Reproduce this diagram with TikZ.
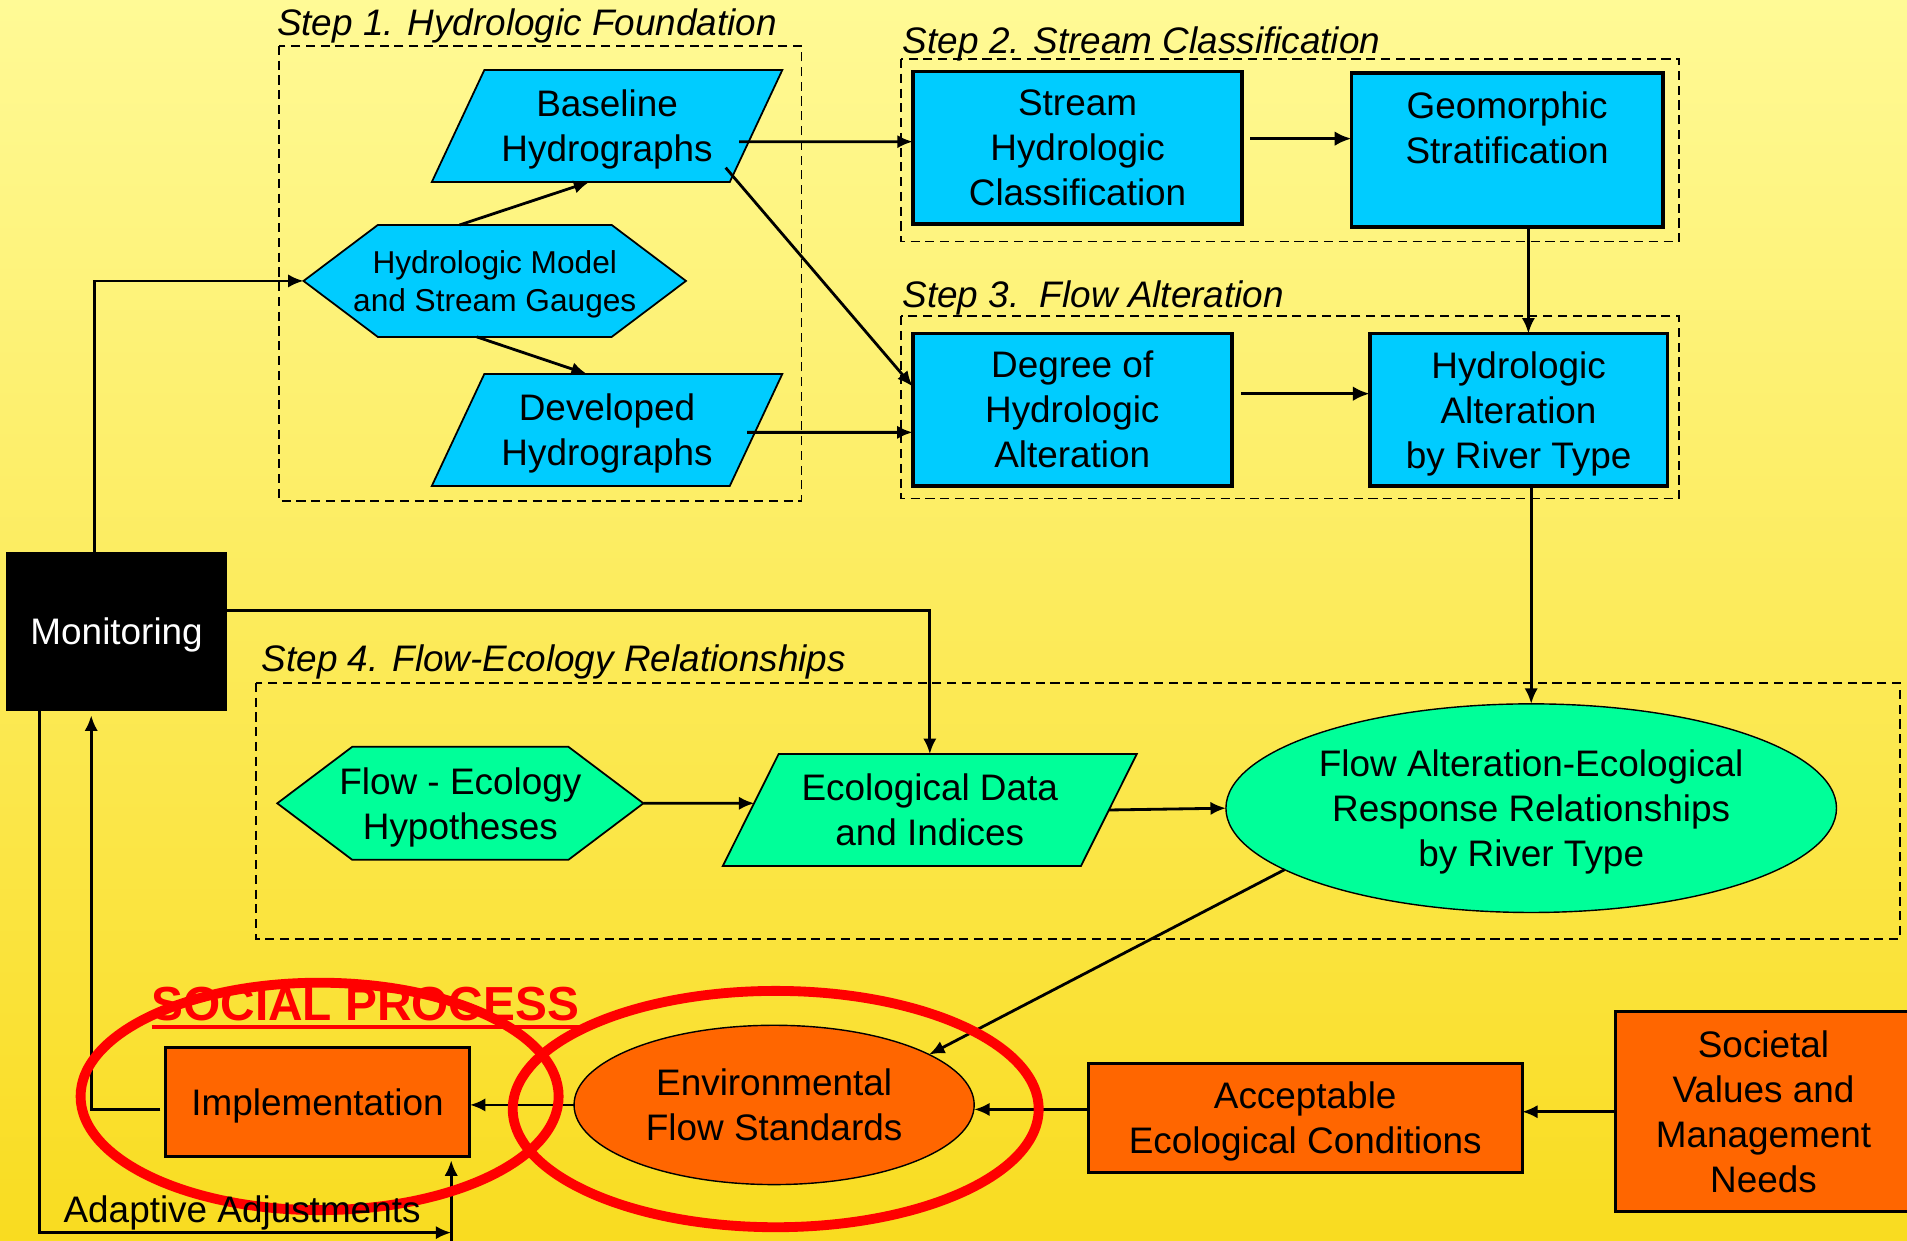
\documentclass[tikz,border=0pt]{standalone}
\usepackage{fontspec}
\setmainfont{Liberation Sans}
\usetikzlibrary{arrows.meta,shapes.geometric,shapes.symbols}
\definecolor{cyanbox}{HTML}{00CCFF}
\definecolor{greenbox}{HTML}{00FF99}
\definecolor{orangebox}{HTML}{FF6600}
\definecolor{bgtop}{HTML}{FFFA96}
\definecolor{bgbot}{HTML}{F9DC20}
% zero-width line, so wide text may overhang the slanted ends of a shape
\newcommand{\zw}[1]{\makebox[0pt]{#1}}
\begin{document}
\begin{tikzpicture}[x=0.012162cm, y=-0.012162cm,
  every node/.style={font=\fontsize{10.5}{12.8}\selectfont, align=center, inner sep=0pt,
    outer sep=0pt, text depth=0pt},
  bluerect/.style={rectangle, draw=black, line width=1.1pt, fill=cyanbox},
  orangerect/.style={rectangle, draw=black, line width=0.85pt, fill=orangebox},
  para/.style={trapezium, trapezium stretches=true, draw=black, line width=0.5pt,
    minimum height=1.119cm},
  hexa/.style={signal, signal to=west and east, signal pointer angle=74,
    draw=black, line width=0.5pt},
  oval/.style={ellipse, draw=black, line width=0.4pt},
  steplabel/.style={anchor=base west, font=\fontsize{10.5}{12.8}\selectfont\itshape},
  framebox/.style={draw=black, line width=0.45pt, dash pattern=on 2.6pt off 1.6pt},
  conn/.style={line width=0.8pt},
  arr/.style={conn, -{Latex[length=4.4pt,width=3.8pt]}},
  arrthick/.style={line width=1pt, -{Latex[length=4.8pt,width=4.2pt]}},
  socialring/.style={ellipse, draw=red, line width=2.8pt}
]
% canvas and background gradient
\useasboundingbox (0,0) rectangle (1568,1019.6);
\shade[top color=bgtop, bottom color=bgbot] (0,0) rectangle (1568,1019.6);

% dashed step frames
\draw[framebox] (229.5,37.8) rectangle (659,412);
\draw[framebox] (741,48.5) rectangle (1380.6,198.6);
\draw[framebox] (741,260) rectangle (1380.6,410);
\draw[framebox] (210.3,561.5) rectangle (1562,772.3);

% step titles
\node[steplabel] (t1) at (227.8,29.6) {Step 1. Hydrologic Foundation};
\node[steplabel] (t2) at (742.4,43.6) {Step 2. Stream Classification};
\node[steplabel] (t3) at (742,253) {Step 3.\ \ Flow Alteration};
\node[steplabel] (t4) at (215.3,552.1) {Step 4. Flow-Ecology Relationships};

% step 1
\node[para, fill=cyanbox, trapezium left angle=57.8, trapezium right angle=122.2,
  minimum width=3.521cm] (base) at (499.15,103.6) {Baseline\\Hydrographs};
\node[para, fill=cyanbox, trapezium left angle=57.8, trapezium right angle=122.2,
  minimum width=3.521cm] (dev) at (499.15,353.5) {Developed\\Hydrographs};
\node[hexa, fill=cyanbox, minimum width=3.824cm, minimum height=1.119cm,
  font=\fontsize{9}{10.9}\selectfont] (model) at (406.8,231)
  {\zw{Hydrologic Model}\\\zw{and Stream Gauges}};

% step 2
\node[bluerect, minimum width=3.296cm, minimum height=1.529cm] (stream) at (886,121.65)
  {Stream\\Hydrologic\\Classification};
\node[bluerect, minimum width=3.113cm, minimum height=1.540cm] (geo) at (1239.2,123.4)
  {Geomorphic\\Stratification\\\mbox{}};

% step 3
\node[bluerect, minimum width=3.193cm, minimum height=1.523cm] (deg) at (881.65,336.8)
  {Degree of\\Hydrologic\\Alteration};
\node[bluerect, minimum width=2.977cm, minimum height=1.524cm] (halt) at (1248.6,336.85)
  {Hydrologic\\Alteration\\by River Type};

% monitoring
\node[rectangle, fill=black, text=white, minimum width=2.211cm, minimum height=1.584cm]
  (mon) at (95.9,519.1) {Monitoring};

% step 4
\node[hexa, fill=greenbox, minimum width=3.661cm, minimum height=1.131cm] (hyp)
  at (378.5,660.5) {\zw{Flow - Ecology}\\\zw{Hypotheses}};
\node[para, fill=greenbox, trapezium left angle=56.6, trapezium right angle=123.4,
  minimum width=4.147cm] (eco) at (764.5,666) {Ecological Data\\and Indices};
\node[oval, fill=greenbox, minimum width=6.105cm, minimum height=2.086cm] (resp)
  at (1259,664.5) {Flow Alteration-Ecological\\Response Relationships\\by River Type};

% social process
\node[oval, fill=orangebox, minimum width=4.001cm, minimum height=1.593cm] (env)
  at (636.5,908.5) {Environmental\\Flow Standards};
\node[orangerect, minimum width=3.047cm, minimum height=1.095cm] (impl)
  at (261.1,906) {Implementation};
\node[orangerect, minimum width=4.339cm, minimum height=1.089cm] (acc)
  at (1073.15,919.25) {Acceptable\\Ecological Conditions};
\node[orangerect, minimum width=2.968cm, minimum height=1.995cm] (soc)
  at (1450,914.1) {Societal\\Values and\\Management\\Needs};

% connectors, step 1
\draw[arr] ([shift={(-29,0)}]model.north) -- ([shift={(-14.65,0)}]base.south);
\draw[arr] ([shift={(-14.8,0)}]model.south) -- ([shift={(-16.7,0)}]dev.north);
\draw[arr] ([shift={(-18.4,0)}]mon.north) |- (model.west);
\draw[arr] ([shift={(-14,12.9)}]base.east) -- ([shift={(0,-5.15)}]stream.west);
\draw[arr] ([shift={(-25,34.3)}]base.east) -- ([shift={(0,-19)}]deg.west);
\draw[arr] ([shift={(-7.3,2)}]dev.east) -- ([shift={(0,18.7)}]deg.west);

% connectors, steps 2 and 3
\draw[arrthick] ([shift={(6.5,-7.65)}]stream.east) -- ([shift={(0,-9.4)}]geo.west);
\draw[arr] ([shift={(17.5,0)}]geo.south) -- ([shift={(8.1,0)}]halt.north);
\draw[arrthick] ([shift={(7.4,-13.1)}]deg.east) -- ([shift={(0,-13.15)}]halt.west);
\draw[arr] (halt.south -| resp.north) -- (resp.north);

% connectors, step 4
\draw[arr] ([shift={(0,-17.1)}]mon.east) -| (eco.north);
\draw[arr] (hyp.east) -- ([shift={(3,-5.5)}]eco.west);
\draw[arr] (eco.east) -- (resp.west);
\draw[arr] (resp.194) -- (env.18.5);

% connectors, social process
\draw[arr] (env.west) -- (env.west -| impl.east);
\draw[arr] ([shift={(0,-7)}]acc.west) -- ([shift={(0,3.7)}]env.east);
\draw[arr] (soc.west) -- (soc.west -| acc.east);
\draw[arr] ([shift={(-4,6)}]impl.west) -| ([shift={(-20.9,4)}]mon.south);
\coordinate (adjend) at (371,1013.5);
\coordinate (adjfoot) at (371,1024);
\draw[arr] ([shift={(-63.5,0)}]mon.south) |- (adjend);
\draw[arr] (adjfoot) -- ([shift={(0,3)}]impl.south -| adjfoot);

% social process rings and title
\node[socialring, minimum width=4.780cm, minimum height=2.274cm] (ringL) at (262.8,901.5) {};
\node[socialring, minimum width=5.259cm, minimum height=2.363cm] (ringR) at (637.8,911.9) {};
\node[anchor=base west, text=red, font=\fontsize{13.6}{16}\selectfont\bfseries] (social)
  at (124.6,839) {SOCIAL PROCESS};
\draw[red, line width=1.1pt] ([shift={(0,5.7)}]social.base west) -- ([shift={(0,5.7)}]social.base east);
\node[anchor=base west] (adapt) at (52.3,1005.2) {Adaptive Adjustments};
\end{tikzpicture}
\end{document}
